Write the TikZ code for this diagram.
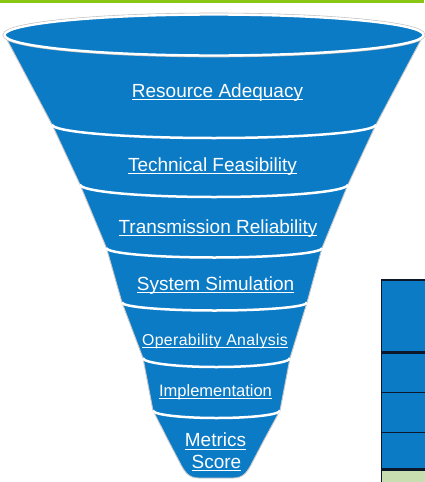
\documentclass[tikz,border=0pt]{standalone}
\usepackage{fontspec}
\setmainfont{Liberation Sans}
\definecolor{funnelblue}{RGB}{11,123,198}
\definecolor{topgreen}{RGB}{136,198,20}
\definecolor{gridline}{RGB}{12,24,42}
\definecolor{palegreen}{RGB}{200,222,176}
% underline drawn at a fixed depth below the baseline, like a hyperlink
\newcommand\linkul[1]{\setbox0\hbox{#1}\rlap{\rule[-2.9pt]{\wd0}{1.1pt}}\box0}
% white rim between two funnel bands: left x, right x, edge y, sag
\newcommand\bandedge[4]{%
  \draw[bandline] (#1,#3) .. controls (#1,{#3+0.552*#4}) and ({(#1+#2)/2-0.552*(#2-#1)/2},{#3+#4})
    .. ({(#1+#2)/2},{#3+#4}) .. controls ({(#1+#2)/2+0.552*(#2-#1)/2},{#3+#4}) and (#2,{#3+0.552*#4}) .. (#2,#3);}
\begin{document}
\begin{tikzpicture}[x=1pt,y=-1pt,
  bandline/.style={white,line width=2.5pt},
  label/.style={text=white,anchor=base,inner sep=0pt,font=\fontsize{19}{22}\selectfont},
  smalllabel/.style={label,font=\fontsize{15.8}{18}\selectfont\addfontfeature{LetterSpace=2.5}},
  midlabel/.style={label,font=\fontsize{16.5}{19}\selectfont}]
\useasboundingbox (0,0) rectangle (424,482);
\fill[white] (0,0) rectangle (424,482);
% green rule along the top
\fill[topgreen] (0,0) rectangle (424,3);
% table at the right edge
\fill[funnelblue] (381.5,280) rectangle (425,469.3);
\fill[palegreen] (381.5,469.3) rectangle (425,483);
\draw[gridline,line width=1.5pt] (425,280) -- (381.5,280) -- (381.5,483);
\draw[gridline,line width=2.5pt] (381.5,352.5) -- (425,352.5);
\draw[gridline,line width=1.3pt] (381.5,392.7) -- (425,392.7);
\draw[gridline,line width=1.3pt] (381.5,432.7) -- (425,432.7);
\draw[gridline,line width=2.5pt] (381.5,469.3) -- (425,469.3);
% funnel body
\fill[funnelblue,draw=black!22,line width=0.9pt]
  (4.5,35) -- (52,124.5) -- (80,184.5) -- (106.5,248) -- (122,302.5) -- (143,358)
  -- (153,410.5) -- (168,440) -- (179,461) .. controls (185,473) and (189,478) .. (199,478)
  -- (233,478) .. controls (243,478) and (247,473) .. (253,461) -- (264,440)
  -- (280,410.5) -- (290,358) -- (307,302.5) -- (322,248) -- (348,184.5)
  -- (376,124.5) -- (423.5,35) -- cycle;
% opening at the top
\draw[black!25,line width=3.6pt] (214,35) ellipse [x radius=209.5, y radius=20.5];
\fill[funnelblue] (214,35) ellipse [x radius=209.5, y radius=20.5];
\draw[white,line width=2.4pt] (214,35) ellipse [x radius=209.5, y radius=20.5];
% rims between the bands
\bandedge{52}{376}{124.5}{13.5}
\bandedge{80}{348}{184.5}{12.5}
\bandedge{106.5}{322}{248}{9.5}
\bandedge{122}{307}{302.5}{8}
\bandedge{143}{290}{358}{9}
\bandedge{153}{280}{410.5}{7.5}
% band labels
\node[label] (resource) at (217.5,97.3) {\linkul{Resource Adequacy}};
\node[label] (technical) at (212.5,171.5) {\linkul{Technical Feasibility}};
\node[label] (transmission) at (218,233.3) {\linkul{Transmission Reliability}};
\node[label] (simulation) at (215.5,290) {\linkul{System Simulation}};
\node[smalllabel] (operability) at (215,345) {\linkul{Operability Analysis}};
\node[midlabel] (implementation) at (215.5,396.5) {\linkul{Implementation}};
\node[label] (metrics) at (215.5,446.7) {\linkul{Metrics}};
\node[label] (score) at (216.5,468.3) {\linkul{Score}};
\end{tikzpicture}
\end{document}
